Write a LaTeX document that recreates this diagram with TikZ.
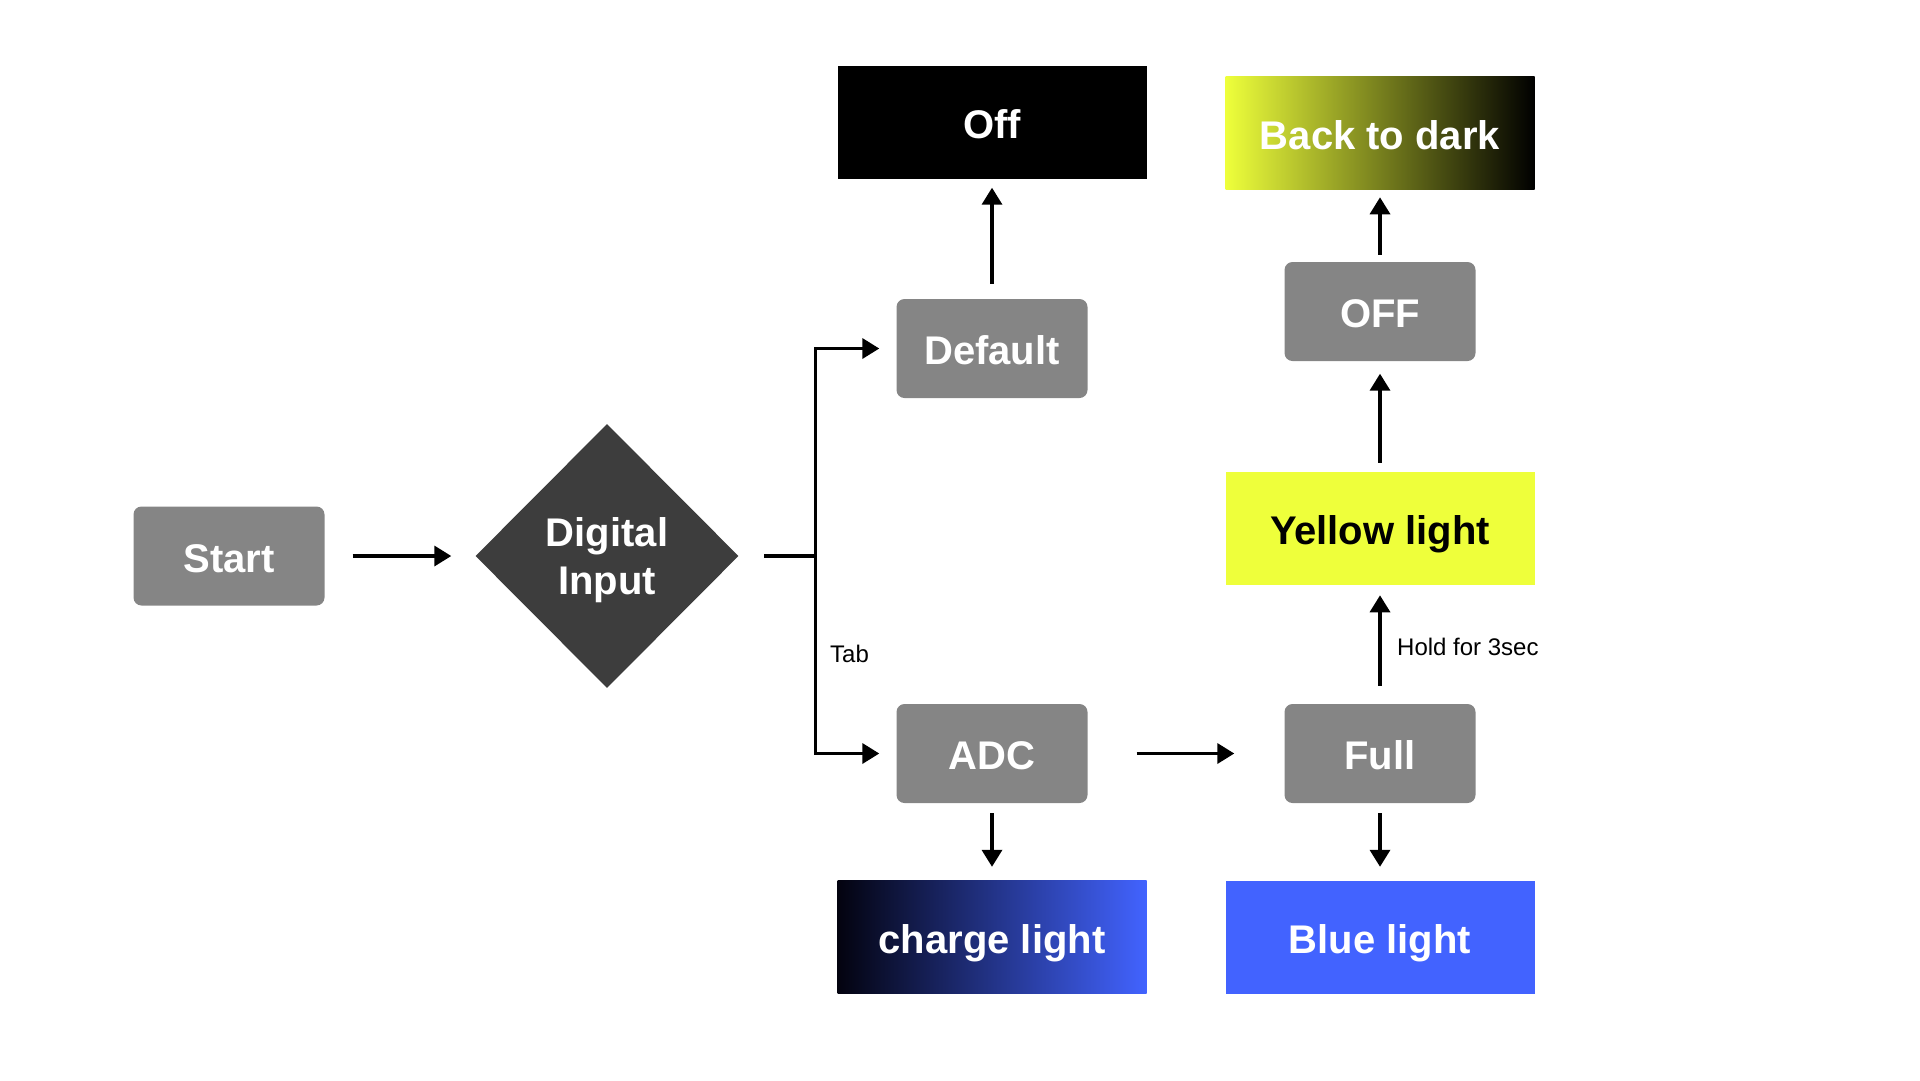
\documentclass[tikz,border=0pt]{standalone}
\usepackage{fontspec}
\setmainfont{Liberation Sans}
\usetikzlibrary{arrows.meta,shapes.geometric}
\definecolor{boxgray}{HTML}{858585}
\definecolor{diagray}{HTML}{3D3D3D}
\definecolor{ylw}{HTML}{EEFF3B}
\definecolor{blu}{HTML}{4263FF}
\definecolor{darkblu}{HTML}{03030F}
\begin{document}
\begin{tikzpicture}[x=1pt,y=-1pt,
 gbox/.style={rectangle, rounded corners=8pt, fill=boxgray, minimum width=191pt, minimum height=99pt, inner sep=0pt, text=white, text height=32.6pt, text depth=0pt, font=\bfseries\fontsize{40}{48}\selectfont},
 cbox/.style={rectangle, minimum width=309pt, minimum height=113pt, inner sep=0pt, text height=32.6pt, text depth=0pt, font=\bfseries\fontsize{40}{48}\selectfont},
 arr/.style={line width=3.5pt, -{Triangle[length=17pt,width=20pt]}},
 ln/.style={line width=3.5pt},
 lbl/.style={font=\fontsize{24}{29}\selectfont, inner sep=0pt, anchor=west}]
\useasboundingbox (0,0) rectangle (1920,1080);
\node[gbox] (start) at (229,556) {Start};
\node[diamond, fill=diagray, minimum width=263pt, minimum height=264pt, inner sep=0pt] (dia) at (607,556) {};
\node[text=white, font=\bfseries\fontsize{40}{48}\selectfont, align=center, inner sep=0pt] (diat) at ([yshift=-4pt]dia.center) {Digital\\Input};
\node[cbox, fill=black, text=white] (off) at (992,122) {Off};
\node[gbox] (def) at (992,348.5) {Default};
\node[gbox] (adc) at (992,753.5) {ADC};
\node[cbox, left color=darkblu, right color=blu, text=white] (charge) at (992,937) {charge light};
\node[cbox, left color=ylw, right color=black, text=white] (back) at (1380,133) {Back to dark};
\node[gbox] (OFF) at (1380,311.5) {OFF};
\node[cbox, fill=ylw, text=black] (yellow) at (1380,528) {Yellow light};
\node[gbox] (full) at (1380,753.5) {Full};
\node[cbox, fill=blu, text=white] (blue) at (1380,937) {Blue light};
\coordinate (br) at (815.5,556);
\draw[arr, shorten <=28pt, shorten >=24pt] (start.east) -- (dia.west);
\draw[ln] ([xshift=25.5pt]dia.east) -- (br);
\draw[arr] (br) |- ([xshift=-17pt]def.west);
\draw[arr] (br) |- ([xshift=-17pt]adc.west);
\draw[arr, shorten <=15pt, shorten >=9pt] (def.north) -- (off.south);
\draw[arr, shorten <=7pt, shorten >=7.6pt] (OFF.north) -- (back.south);
\draw[arr, shorten <=8.6pt, shorten >=12.5pt] (yellow.north) -- (OFF.south);
\draw[arr, shorten <=18.3pt, shorten >=10.6pt] (full.north) -- (yellow.south);
\draw[arr, shorten <=49pt, shorten >=50pt] (adc.east) -- (full.west);
\draw[arr, shorten <=10pt, shorten >=13.5pt] (adc.south) -- (charge.north);
\draw[arr, shorten <=10pt, shorten >=13.5pt] (full.south) -- (blue.north);
\node[lbl] (tab) at (830,654) {Tab};
\node[lbl] (hold) at (1397,646.5) {Hold for 3sec};
\end{tikzpicture}
\end{document}
